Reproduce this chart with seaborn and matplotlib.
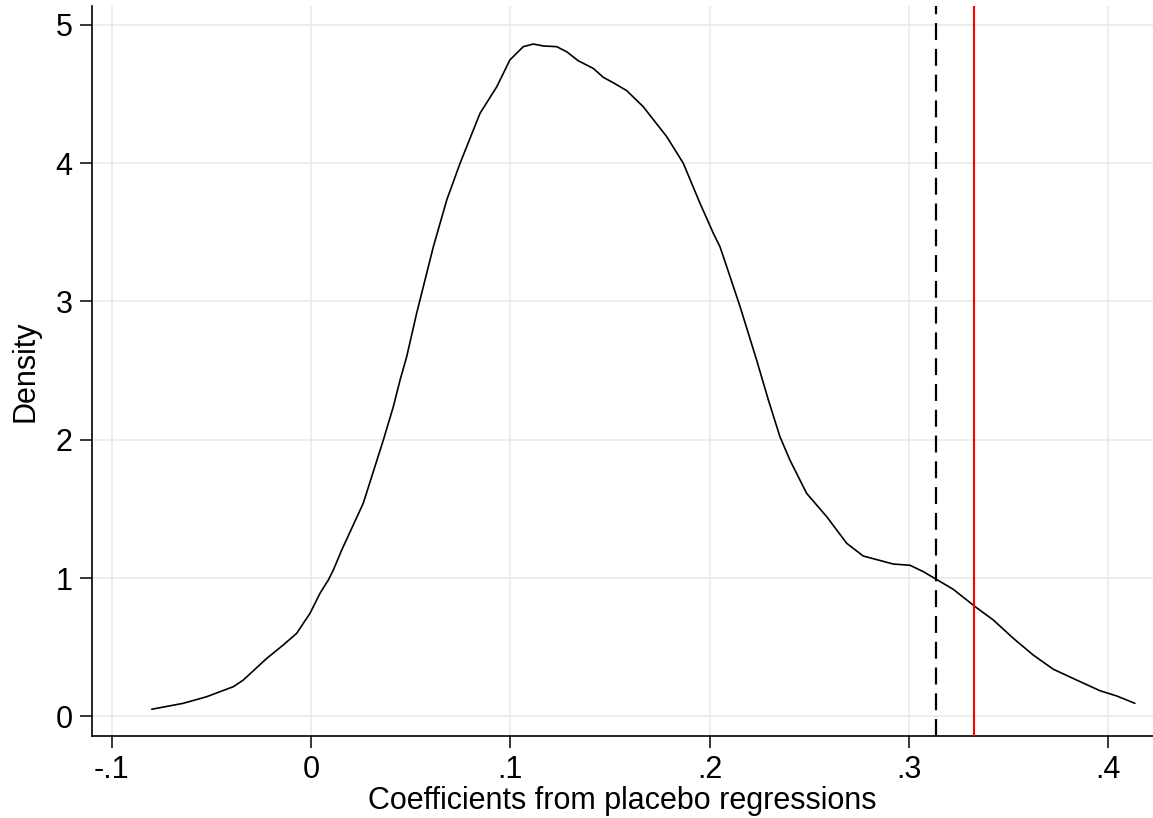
import numpy as np
import pandas as pd
import matplotlib
matplotlib.use("Agg")
import matplotlib.pyplot as plt
import seaborn as sns

# Kernel density of placebo-regression coefficients
coef = [-0.0799, -0.0641, -0.0523, -0.0390, -0.0340, -0.0222, -0.0139, -0.0072,
        -0.0005, 0.0045, 0.0087, 0.0112, 0.0154, 0.0262, 0.0363, 0.0413,
        0.0447, 0.0480, 0.0530, 0.0572, 0.0614, 0.0681, 0.0748, 0.0848,
        0.0932, 0.0998, 0.1065, 0.1115, 0.1166, 0.1233, 0.1283, 0.1341,
        0.1416, 0.1467, 0.1517, 0.1584, 0.1667, 0.1785, 0.1868, 0.1952,
        0.2019, 0.2052, 0.2086, 0.2153, 0.2236, 0.2295, 0.2353, 0.2403,
        0.2487, 0.2588, 0.2688, 0.2771, 0.2922, 0.3006, 0.3072, 0.3143,
        0.3223, 0.3337, 0.3424, 0.3524, 0.3624, 0.3725, 0.3842, 0.3959,
        0.4043, 0.4134]
density = [0.051, 0.094, 0.142, 0.214, 0.262, 0.419, 0.516, 0.600,
           0.745, 0.889, 0.986, 1.058, 1.202, 1.540, 1.998, 2.239,
           2.432, 2.600, 2.914, 3.155, 3.396, 3.733, 3.999, 4.360,
           4.552, 4.746, 4.842, 4.861, 4.847, 4.842, 4.805, 4.740,
           4.685, 4.620, 4.581, 4.524, 4.408, 4.191, 3.999, 3.709,
           3.492, 3.396, 3.251, 2.962, 2.576, 2.287, 2.022, 1.853,
           1.612, 1.443, 1.251, 1.159, 1.101, 1.092, 1.046, 0.986,
           0.918, 0.788, 0.696, 0.564, 0.443, 0.340, 0.262, 0.185,
           0.147, 0.094]

# Reference values: placebo threshold (dashed) and actual estimate (red)
threshold_value = 0.3135
actual_estimate = 0.3329

x_ticks = [-0.1, 0.0, 0.1, 0.2, 0.3, 0.4]
x_tick_labels = ["-.1", "0", ".1", ".2", ".3", ".4"]
y_ticks = [0, 1, 2, 3, 4, 5]
y_tick_labels = ["0", "1", "2", "3", "4", "5"]

sns.set_theme(style="white")
plt.rcParams["font.family"] = ["Liberation Sans", "DejaVu Sans"]

df = pd.DataFrame({"coef": coef, "density": density})

fig = plt.figure(figsize=(11.53, 8.18), dpi=100)
ax = fig.add_axes([92 / 1153, 82 / 818, (1153 - 92) / 1153, (736 - 6) / 818])

sns.lineplot(data=df, x="coef", y="density", ax=ax, color="black",
             linewidth=1.2, sort=False, zorder=3)

ax.axvline(threshold_value, color="black", linewidth=1.6,
           linestyle=(0, (7.6, 4.0)), zorder=4)
ax.axvline(actual_estimate, color="#ff0000", linewidth=1.5, zorder=4)

ax.set_xlim(-0.1099, 0.4225)
ax.set_ylim(-0.1424, 5.136)

ax.set_xticks(x_ticks)
ax.set_xticklabels(x_tick_labels)
ax.set_yticks(y_ticks)
ax.set_yticklabels(y_tick_labels)

ax.grid(True, color="#e8e8e8", linewidth=1.1, zorder=0)
ax.set_axisbelow(True)

for side in ["top", "right"]:
    ax.spines[side].set_visible(False)
for side in ["left", "bottom"]:
    ax.spines[side].set_color("black")
    ax.spines[side].set_linewidth(1.2)

ax.tick_params(axis="both", which="major", direction="out", length=8.6,
               width=1.1, color="black", labelsize=22, labelcolor="black",
               bottom=True, left=True)
ax.tick_params(axis="x", pad=5)
ax.tick_params(axis="y", pad=5.5)

ax.set_xlabel("Coefficients from placebo regressions", fontsize=22,
              color="black", labelpad=1)
ax.set_ylabel("Density", fontsize=22, color="black", labelpad=11)

fig.savefig("out.png", dpi=100, facecolor="white")
